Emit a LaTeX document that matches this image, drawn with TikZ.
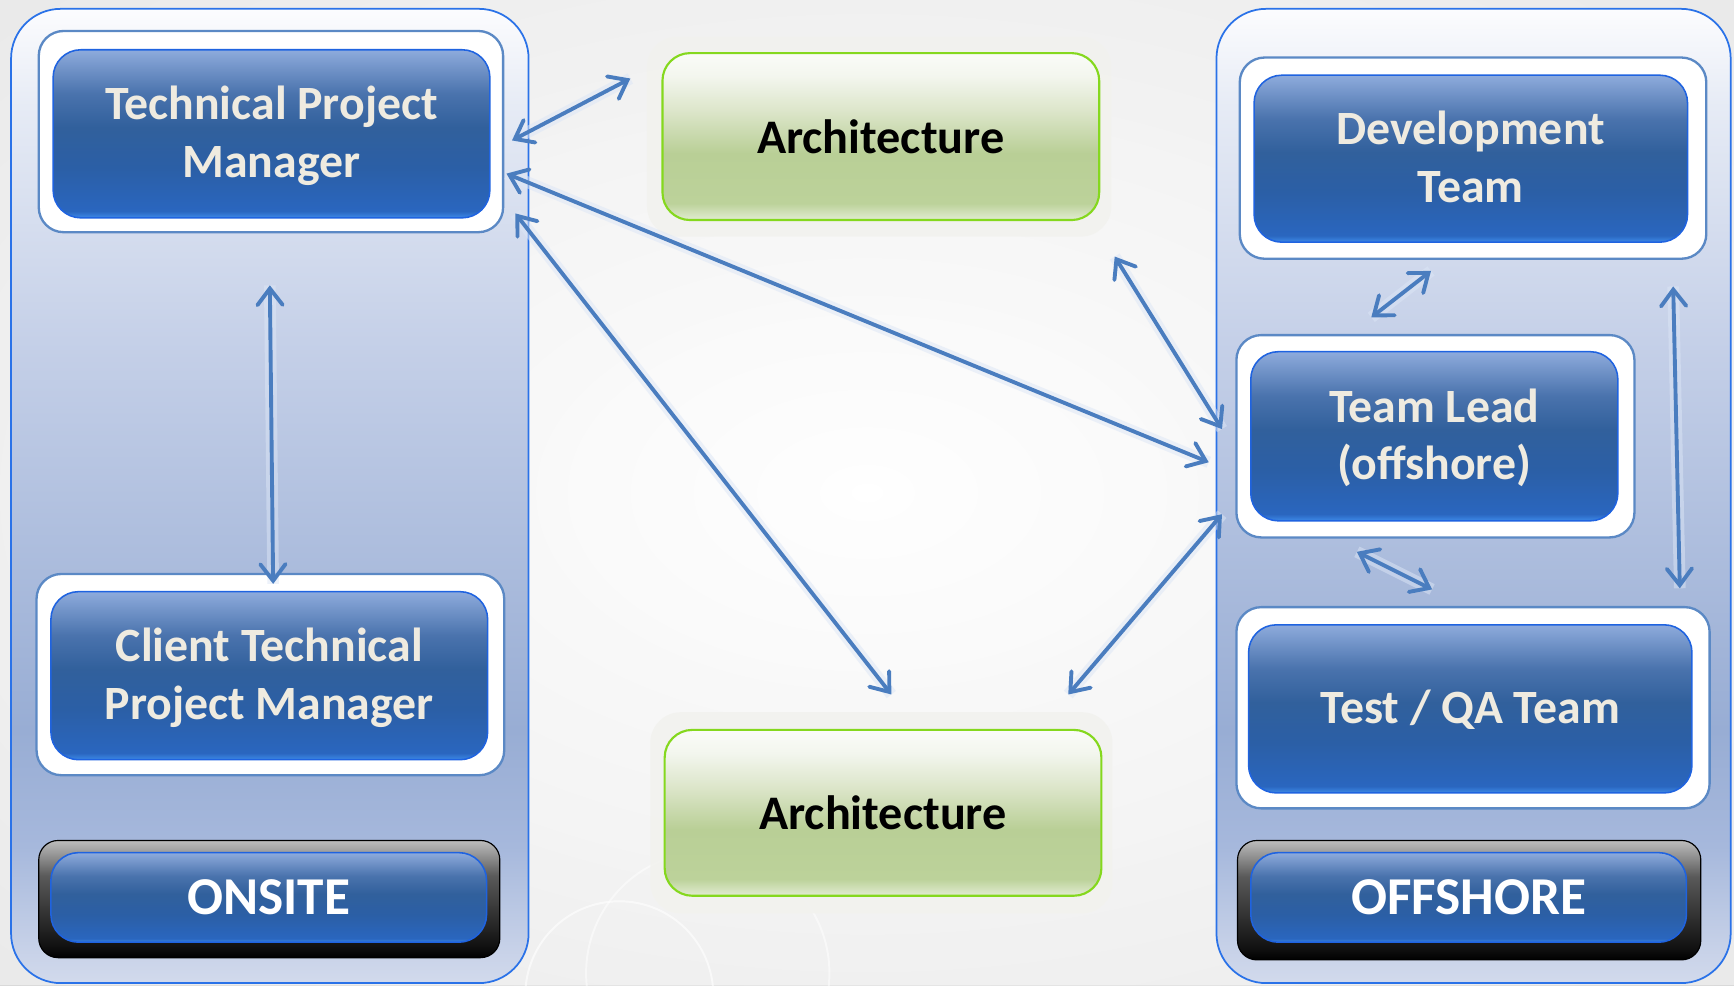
\documentclass[tikz,border=0pt]{standalone}
\usepackage{fontspec}
\setmainfont{Carlito}
\usetikzlibrary{arrows.meta}
\definecolor{frameblue}{HTML}{5B89C5}
\definecolor{btnborder}{HTML}{1F63E0}
\definecolor{panelborder}{HTML}{2A72E8}
\definecolor{arrowblue}{HTML}{4A7DBF}
\definecolor{glowblue}{HTML}{DCE6F6}
\definecolor{cream}{HTML}{EFEBE0}
\definecolor{greenborder}{HTML}{85D81E}
\definecolor{bA}{HTML}{3D8AE8}
\definecolor{bB}{HTML}{2A66BF}
\definecolor{bC}{HTML}{2B5FA6}
\definecolor{bD}{HTML}{31609C}
\definecolor{bE}{HTML}{4A73AD}
\definecolor{bF}{HTML}{8EABDC}
\definecolor{gA}{HTML}{E2ECD2}
\definecolor{gB}{HTML}{BCD29A}
\definecolor{gC}{HTML}{B9CF96}
\definecolor{gD}{HTML}{DDE6CB}
\definecolor{gE}{HTML}{F3F6EE}
\definecolor{gF}{HTML}{FAFCF8}
\definecolor{pA}{HTML}{D2DAEC}
\definecolor{pB}{HTML}{A6B8DC}
\definecolor{pC}{HTML}{98ADD4}
\definecolor{pD}{HTML}{C5D0E8}
\definecolor{pE}{HTML}{E6EBF5}
\definecolor{pF}{HTML}{FCFCFE}
\definecolor{dA}{HTML}{000000}
\definecolor{dB}{HTML}{111111}
\definecolor{dC}{HTML}{5A5A5A}
\definecolor{dD}{HTML}{BDBDBD}
\definecolor{bggray}{HTML}{D9D9D9}
\definecolor{glowfill}{HTML}{F2F2EE}
\pgfdeclareverticalshading{btnsh}{100bp}{color(0bp)=(bA); color(25bp)=(bA); color(27bp)=(bB); color(40bp)=(bC); color(52bp)=(bD); color(62bp)=(bE); color(75bp)=(bF); color(100bp)=(bF)}
\pgfdeclareverticalshading{grnsh}{100bp}{color(0bp)=(gA); color(25bp)=(gA); color(30bp)=(gB); color(45bp)=(gC); color(58bp)=(gD); color(68bp)=(gE); color(75bp)=(gF); color(100bp)=(gF)}
\pgfdeclareverticalshading{pnlsh}{100bp}{color(0bp)=(pA); color(25bp)=(pA); color(32bp)=(pB); color(38bp)=(pC); color(58bp)=(pD); color(70bp)=(pE); color(75bp)=(pF); color(100bp)=(pF)}
\pgfdeclareverticalshading{drksh}{100bp}{color(0bp)=(dA); color(25bp)=(dA); color(30bp)=(dB); color(60bp)=(dC); color(75bp)=(dD); color(100bp)=(dD)}
\tikzset{
  barbtip/.tip={Straight Barb[length=8.5pt,width=13pt,line cap=round]},
  panel/.style={draw=panelborder, line width=0.9pt, shading=pnlsh, rounded corners=0.9cm},
  frame/.style={draw=frameblue, line width=1.2pt, fill=white, rounded corners=0.45cm, inner sep=0pt},
  btn/.style={draw=btnborder, line width=0.8pt, shading=btnsh, rounded corners=0.5cm, text=cream,
    align=center, inner sep=0pt, text depth=2pt, font={\fontsize{24.6pt}{29.5pt}\selectfont\bfseries}},
  tag/.style={btn, text=white, text depth=0pt, font={\fontsize{27.4pt}{30pt}\selectfont\bfseries}},
  darkframe/.style={draw=black, line width=0.6pt, shading=drksh, rounded corners=0.35cm, inner sep=0pt},
  glow/.style={fill=glowfill, rounded corners=0.55cm, opacity=0.85, inner sep=0pt},
  archbox/.style={draw=greenborder, line width=1.1pt, shading=grnsh, rounded corners=0.5cm, text=black,
    align=center, inner sep=0pt, font={\fontsize{24.8pt}{29pt}\selectfont\bfseries}},
  arr/.style={arrowblue, line width=2pt, line cap=round, {barbtip}-{barbtip},
    preaction={draw=glowblue, line width=6pt, opacity=0.5, -}}
}
\begin{document}
\begin{tikzpicture}[x=0.02cm, y=-0.02cm]
\useasboundingbox (0,0) rectangle (1568,891);
% background
\fill[inner color=white, outer color=bggray] (-300,-200) rectangle (1868,1091);
\fill[white, opacity=0.45] (0,0) rectangle (1568,891);
\draw[white, line width=1pt, opacity=0.6] (560,900) circle (85);
\draw[white, line width=1pt, opacity=0.5] (640,880) circle (110);
% panels
\path[panel] (10,8) rectangle (478,889);
\path[panel] (1100,8) rectangle (1565,889);
% onsite boxes
\node[frame, minimum width=8.4cm, minimum height=3.64cm] (tpmF) at (245,119) {};
\node[btn, minimum width=7.9cm, minimum height=3.04cm] (tpm) at (245.5,121) {Technical Project\\Manager};
\node[frame, minimum width=8.46cm, minimum height=3.64cm] (ctpmF) at (244.5,610) {};
\node[btn, minimum width=7.9cm, minimum height=3.04cm] (ctpm) at (243.5,611) {Client Technical\\Project Manager};
\node[darkframe, minimum width=8.34cm, minimum height=2.12cm] (onsF) at (243.5,813) {};
\node[tag, minimum width=7.88cm, minimum height=1.62cm] (ons) at (243,811.5) {ONSITE};
% architecture boxes
\node[glow, minimum width=8.4cm, minimum height=3.62cm] (arch1G) at (795,123.5) {};
\node[archbox, minimum width=7.9cm, minimum height=3.02cm] (arch1) at (796.5,123.5) {Architecture};
\node[glow, minimum width=8.36cm, minimum height=3.64cm] (arch2G) at (797,735) {};
\node[archbox, minimum width=7.9cm, minimum height=3.0cm] (arch2) at (798.5,735) {Architecture};
% offshore boxes
\node[frame, minimum width=8.44cm, minimum height=3.64cm] (devF) at (1332,143) {};
\node[btn, minimum width=7.84cm, minimum height=3.02cm] (dev) at (1330,143.5) {Development\\Team};
\node[frame, minimum width=7.2cm, minimum height=3.66cm] (tlF) at (1298,394.5) {};
\node[btn, minimum width=6.64cm, minimum height=3.06cm] (tl) at (1297,394.5) {Team Lead\\(offshore)};
\node[frame, minimum width=8.56cm, minimum height=3.64cm] (qaF) at (1332,640) {};
\node[btn, minimum width=8.02cm, minimum height=3.04cm] (qa) at (1329.5,641) {Test / QA Team};
\node[darkframe, minimum width=8.38cm, minimum height=2.16cm] (offF) at (1328.5,814) {};
\node[tag, minimum width=7.88cm, minimum height=1.62cm] (off) at (1328,811.5) {OFFSHORE};
% arrow end points
\coordinate (tpmA) at (463,127);
\coordinate (arch1A) at (570,71);
\coordinate (tpmB) at (458,157);
\coordinate (tlB) at (1093,418);
\coordinate (tpmC) at (466,193);
\coordinate (arch2C) at (806,628);
\coordinate (tpmD) at (244,258);
\coordinate (ctpmD) at (247,528);
\coordinate (arch1E) at (1008,232);
\coordinate (tlE) at (1105,388);
\coordinate (arch2F) at (966,628);
\coordinate (tlF2) at (1105,465);
\coordinate (devG) at (1294,245);
\coordinate (tlG) at (1240,287);
\coordinate (tlH) at (1227,499);
\coordinate (qaH) at (1295,533);
\coordinate (devI) at (1513,259);
\coordinate (qaI) at (1519,532);
% connectors
\draw[arr] (tpmA) -- (arch1A);
\draw[arr] (tpmB) -- (tlB);
\draw[arr] (tpmC) -- (arch2C);
\draw[arr] (tpmD) -- (ctpmD);
\draw[arr] (arch1E) -- (tlE);
\draw[arr] (arch2F) -- (tlF2);
\draw[arr] (devG) -- (tlG);
\draw[arr] (tlH) -- (qaH);
\draw[arr] (devI) -- (qaI);
\end{tikzpicture}
\end{document}
